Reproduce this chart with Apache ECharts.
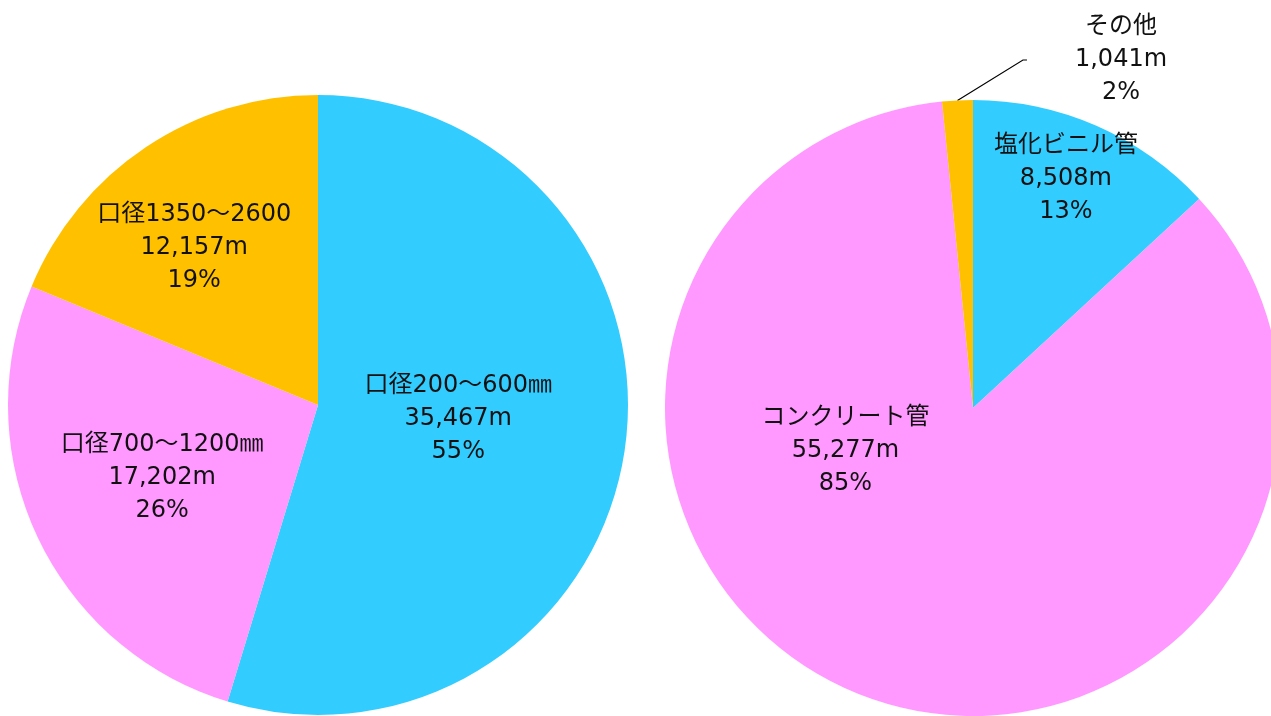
<!DOCTYPE html>
<html>
<head>
<meta charset="utf-8">
<script src="https://cdn.jsdelivr.net/npm/echarts@6/dist/echarts.min.js"></script>
<style>
    html, body { margin: 0; padding: 0; background: #fff; }
    #chart { width: 1271px; height: 716px; }
</style>
</head>
<body>
<div id="chart"></div>
<script>
    // 口径別延長
    const sizeNames = ['口径200～600㎜', '口径700～1200㎜', '口径1350～2600']
    const sizeValues = [35467, 17202, 12157]
    const sizePercents = ['55%', '26%', '19%']

    // 管種別延長
    const typeNames = ['塩化ビニル管', 'コンクリート管', 'その他']
    const typeValues = [8508, 55277, 1041]
    const typePercents = ['13%', '85%', '2%']

    const colors = ['#33CCFF', '#FF99FF', '#FFC000']
    const sizeOffsets = [[-16, -10], [-13, 5], [-36, -26]]
    const typeOffsets = [[30, -85], [-72, -104], [0, 0]]

    const fmt = v => v.toLocaleString('en-US')
    const textStyle = {
        color: '#111',
        fontSize: 24,
        lineHeight: 33,
        fontFamily: '"DejaVu Sans", "Noto Sans CJK JP", sans-serif'
    }

    const buildData = (names, values, percents, offsets) => names.map((n, i) => ({
        name: n,
        value: values[i],
        itemStyle: { color: colors[i] },
        label: {
            offset: offsets[i],
            formatter: n + '\n' + fmt(values[i]) + 'm\n' + percents[i]
        }
    }))

    const typeData = buildData(typeNames, typeValues, typePercents, typeOffsets)
    typeData[2].label = {
        position: 'outside',
        padding: [0, 0, 0, 48],
        formatter: typeNames[2] + '\n' + fmt(typeValues[2]) + 'm\n' + typePercents[2]
    }
    typeData[2].labelLine = { show: true, length: 20, length2: 4, lineStyle: { color: '#000', width: 1.2 } }

    const option = {
        animation: false,
        series: [
            {
                type: 'pie',
                center: [318, 405],
                radius: 310,
                startAngle: 90,
                clockwise: true,
                silent: true,
                label: Object.assign({ position: 'inside', align: 'center' }, textStyle),
                labelLine: { show: false },
                data: buildData(sizeNames, sizeValues, sizePercents, sizeOffsets)
            },
            {
                type: 'pie',
                center: [973, 408],
                radius: 308,
                startAngle: 90,
                clockwise: true,
                silent: true,
                label: Object.assign({ position: 'inside', align: 'center' }, textStyle),
                labelLine: { show: false },
                labelLayout: function (p) {
                    if (p.dataIndex === 2) {
                        return { x: 1097, y: 60, align: 'center', verticalAlign: 'middle', moveOverlap: false }
                    }
                    return {}
                },
                data: typeData
            }
        ]
    }

    const chart = echarts.init(document.getElementById('chart'))
    chart.setOption(option)
    window.addEventListener('resize', () => chart.resize())
</script>
</body>
</html>
